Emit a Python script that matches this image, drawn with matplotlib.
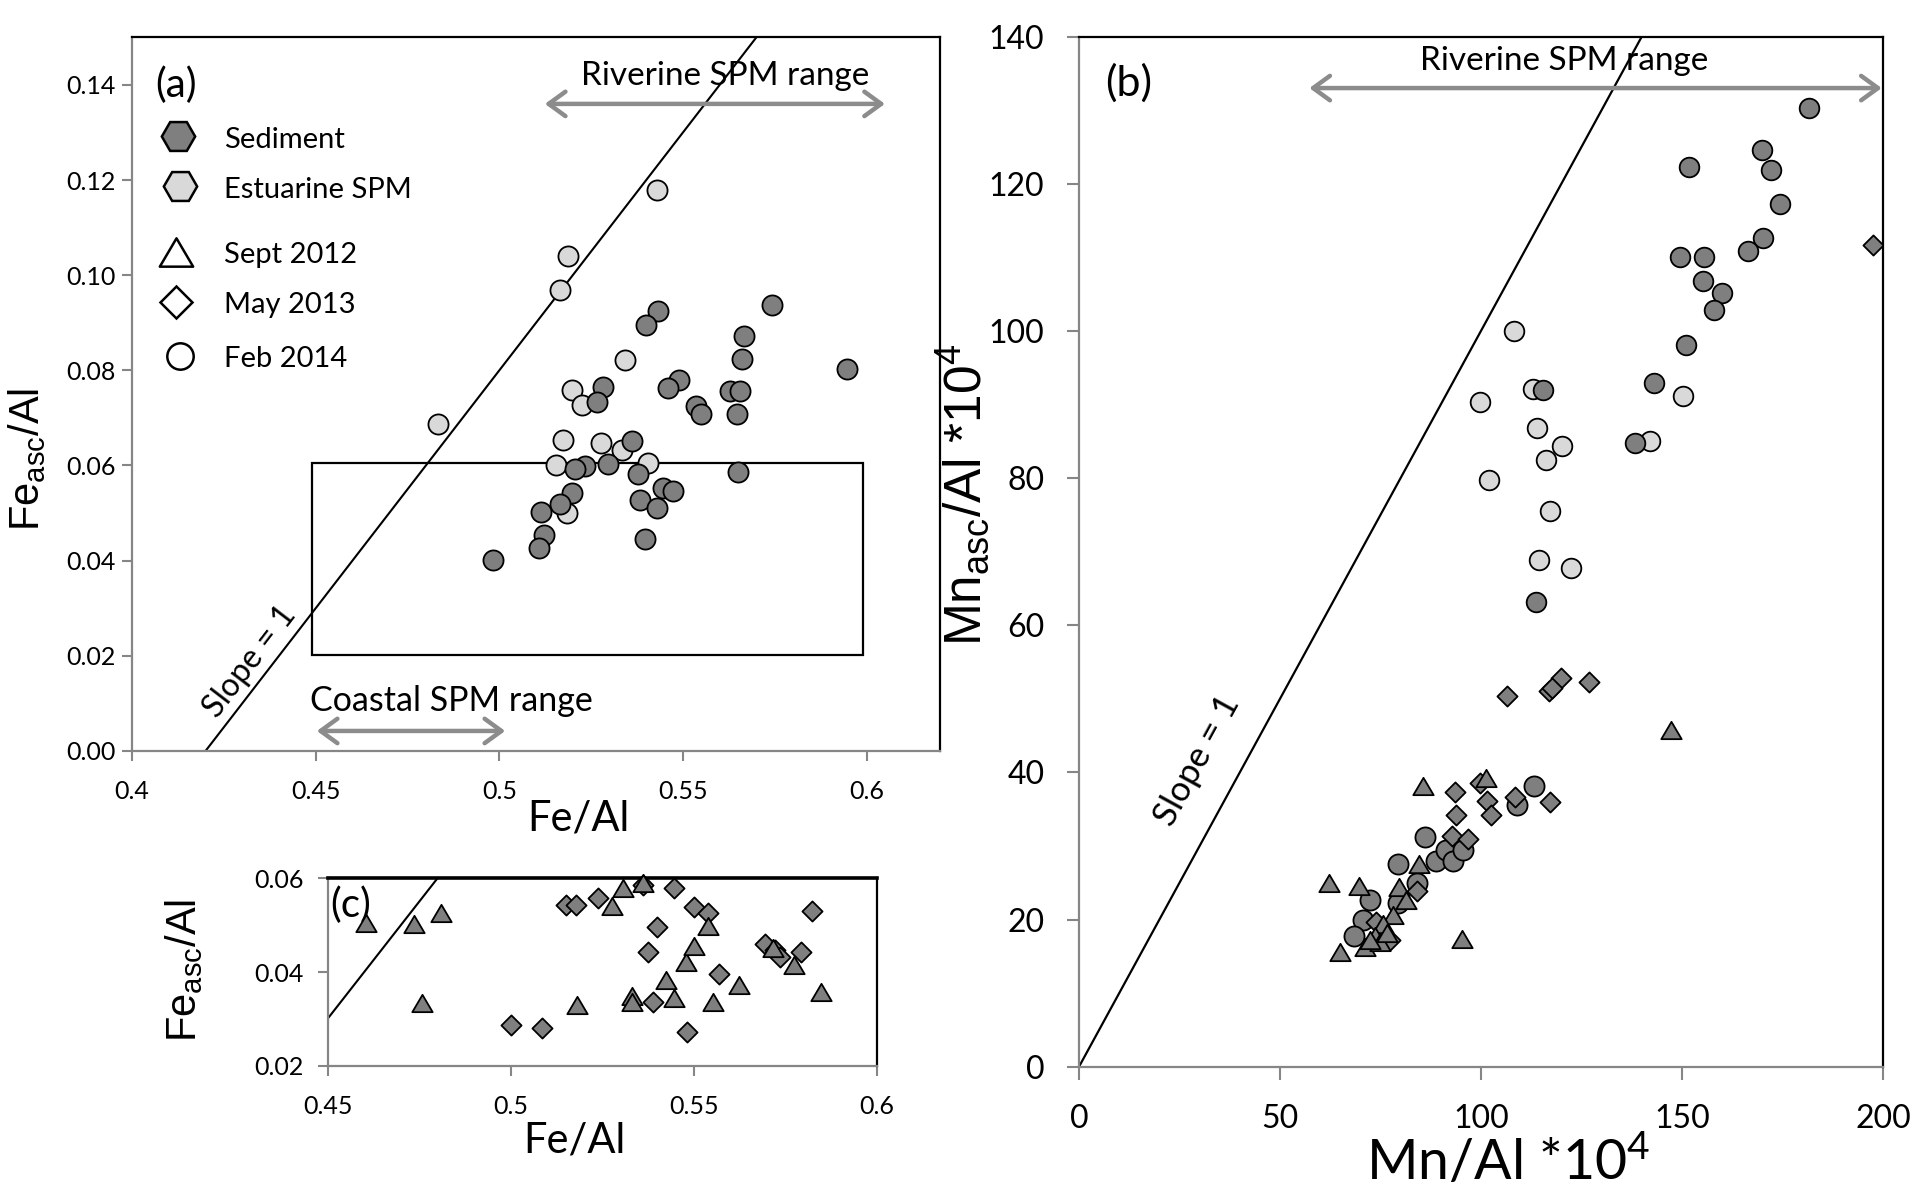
import numpy as np
import matplotlib
matplotlib.use('Agg')
import matplotlib.pyplot as plt
import matplotlib.patches as patches
from matplotlib.path import Path

# ---- (a) Fe_asc/Al vs Fe/Al ----
a_est_x = [0.543, 0.5188, 0.5164, 0.4834, 0.5341, 0.5198, 0.5225, 0.5172, 0.5277, 0.5335, 0.5155, 0.5405, 0.5184]
a_est_y = [0.1180, 0.1040, 0.0968, 0.0688, 0.0822, 0.0758, 0.0728, 0.0654, 0.0648, 0.0632, 0.0600, 0.0605, 0.0500]

a_sed_x = [0.5743, 0.5431, 0.5400, 0.5666, 0.5947, 0.5660, 0.5283, 0.5490, 0.5460, 0.5627,
           0.5655, 0.5265, 0.5535, 0.5550, 0.5648, 0.5361, 0.5297, 0.5233, 0.5207, 0.5378,
           0.5650, 0.5383, 0.5445, 0.5472, 0.5430, 0.5199, 0.5164, 0.5113, 0.5121, 0.5109,
           0.5397, 0.4982]
a_sed_y = [0.0938, 0.0925, 0.0896, 0.0872, 0.0802, 0.0823, 0.0764, 0.0780, 0.0762, 0.0757,
           0.0757, 0.0733, 0.0724, 0.0709, 0.0708, 0.0651, 0.0604, 0.0598, 0.0592, 0.0583,
           0.0587, 0.0527, 0.0552, 0.0546, 0.0510, 0.0543, 0.0519, 0.0502, 0.0454, 0.0427,
           0.0446, 0.0402]

# ---- (b) Mn_asc/Al vs Mn/Al ----
b_est_x = [108.1, 113.0, 99.8, 150.3, 113.9, 120.1, 142.1, 116.2, 101.9, 117.1, 114.5, 122.3]
b_est_y = [100.0, 92.1, 90.4, 91.2, 86.8, 84.4, 85.1, 82.5, 79.8, 75.5, 68.8, 67.8]

b_sed_x = [181.5, 169.9, 151.7, 172.2, 174.3, 170.2, 166.4, 149.6, 155.4, 155.2,
           159.9, 157.9, 151.0, 143.1, 115.4, 138.3, 113.8]
b_sed_y = [130.3, 124.6, 122.3, 121.9, 117.3, 112.6, 110.8, 110.0, 110.1, 106.8,
           105.2, 102.9, 98.1, 92.9, 92.0, 84.7, 63.1]

b_feb_x = [113.2, 109.0, 86.1, 79.3, 88.8, 91.3, 93.1, 95.4, 84.0, 79.4, 72.4, 70.6, 68.5]
b_feb_y = [38.2, 35.6, 31.2, 27.6, 27.9, 29.5, 28.0, 29.5, 24.9, 22.3, 22.6, 20.0, 17.8]

b_may_x = [197.6, 106.5, 116.9, 119.9, 126.8, 117.7, 93.5, 99.8, 101.4, 108.5,
           93.9, 102.6, 92.9, 96.8, 117.2, 84.2, 74.0, 77.4]
b_may_y = [111.7, 50.4, 51.0, 52.8, 52.3, 51.5, 37.3, 38.5, 36.1, 36.6,
           34.2, 34.2, 31.3, 30.9, 36.0, 23.9, 19.7, 17.2]

b_sept_x = [147.2, 85.5, 101.2, 84.6, 62.3, 69.6, 79.7, 81.3, 78.0, 75.7,
            73.6, 71.1, 74.9, 64.9, 95.2, 76.5, 72.5]
b_sept_y = [45.8, 38.1, 39.2, 27.6, 24.9, 24.6, 24.4, 22.7, 20.6, 19.4,
            17.7, 16.3, 17.0, 15.6, 17.3, 18.2, 17.2]

# ---- (c) zoom of the box in (a) ----
c_sept_x = [0.4605, 0.4736, 0.4809, 0.4759, 0.5180, 0.5306, 0.5362, 0.5277, 0.5330, 0.5330,
            0.5424, 0.5447, 0.5478, 0.5501, 0.5539, 0.5553, 0.5623, 0.5774, 0.5848, 0.5715]
c_sept_y = [0.0504, 0.0502, 0.0527, 0.0334, 0.0330, 0.0579, 0.0590, 0.0541, 0.0349, 0.0336,
            0.0384, 0.0344, 0.0422, 0.0456, 0.0498, 0.0337, 0.0372, 0.0416, 0.0358, 0.0452]

c_may_x = [0.5002, 0.5085, 0.5152, 0.5177, 0.5237, 0.5361, 0.5447, 0.5501, 0.5539, 0.5398,
           0.5376, 0.5389, 0.5482, 0.5569, 0.5694, 0.5721, 0.5734, 0.5793, 0.5823]
c_may_y = [0.0287, 0.0280, 0.0544, 0.0544, 0.0557, 0.0586, 0.0579, 0.0539, 0.0525, 0.0497,
           0.0443, 0.0335, 0.0273, 0.0396, 0.0460, 0.0447, 0.0431, 0.0442, 0.0530]

a_xticks = [0.4, 0.45, 0.5, 0.55, 0.6]
a_yticks = [0.00, 0.02, 0.04, 0.06, 0.08, 0.10, 0.12, 0.14]
b_xticks = [0, 50, 100, 150, 200]
b_yticks = [0, 20, 40, 60, 80, 100, 120, 140]
c_xticks = [0.45, 0.5, 0.55, 0.6]
c_yticks = [0.02, 0.04, 0.06]

plt.rcParams['font.family'] = ['Lato', 'DejaVu Sans']
plt.rcParams['mathtext.default'] = 'regular'

DARK = '#7f7f7f'
LIGHT = '#d9d9d9'
AXGRAY = '#868686'
ARROW = '#8c8c8c'
ARIAL = ['Liberation Sans', 'DejaVu Sans']

# slightly flattened triangle like the Excel marker
tri = Path([(-1, -0.85), (1, -0.85), (0, 0.85), (-1, -0.85)],
           [Path.MOVETO, Path.LINETO, Path.LINETO, Path.CLOSEPOLY])


def frame(ax, lsize, xpad, ypad, tlen):
    for s in ['left', 'bottom']:
        ax.spines[s].set_color(AXGRAY)
        ax.spines[s].set_linewidth(1.6)
    for s in ['top', 'right']:
        ax.spines[s].set_color('black')
        ax.spines[s].set_linewidth(1.6)
    ax.tick_params(direction='out', color=AXGRAY, width=1.5, length=tlen, labelsize=lsize)
    ax.tick_params(axis='x', pad=xpad)
    ax.tick_params(axis='y', pad=ypad)


def range_arrow(ax, x1, x2, y):
    ax.annotate('', xy=(x2, y), xytext=(x1, y),
                arrowprops=dict(arrowstyle='<->,head_length=0.55,head_width=0.4',
                                color=ARROW, lw=3.2, mutation_scale=22,
                                shrinkA=0, shrinkB=0))


fig = plt.figure(figsize=(19.2, 11.95), dpi=100)

# ================= (a) =================
ax = fig.add_axes([0.0688, 0.3716, 0.4208, 0.5972])
frame(ax, 18, 14, 5, 7)
ax.set_xlim(0.4, 0.62)
ax.set_ylim(0, 0.15)
ax.set_xticks(a_xticks)
ax.set_xticklabels(['0.4', '0.45', '0.5', '0.55', '0.6'])
ax.set_yticks(a_yticks)
ax.set_yticklabels(['%.2f' % v for v in a_yticks])

sx = np.array([0.42, 0.57])
ax.plot(sx, sx - 0.42, color='k', lw=1.5, zorder=2)
ax.add_patch(patches.Rectangle((0.449, 0.0202), 0.150, 0.0403, fill=False,
                               ec='k', lw=1.6, zorder=2))
ax.scatter(a_est_x, a_est_y, s=210, c=LIGHT, edgecolors='k', linewidths=1.3, zorder=3)
ax.scatter(a_sed_x, a_sed_y, s=210, c=DARK, edgecolors='k', linewidths=1.3, zorder=4)

range_arrow(ax, 0.5124, 0.605, 0.136)
ax.text(0.5616, 0.1418, 'Riverine SPM range', fontsize=24, ha='center', va='center')
range_arrow(ax, 0.4503, 0.5016, 0.0042)
ax.text(0.4485, 0.0106, 'Coastal SPM range', fontsize=24.5, ha='left', va='center')
ax.text(0.4322, 0.0188, 'Slope = 1', fontsize=23, rotation=52.5,
        ha='center', va='center')

# legend drawn by hand, Excel style
ax.text(0.0545, 0.933, '(a)', transform=ax.transAxes, fontsize=29, ha='center', va='center')
leg = [('H', DARK, 0.0566, 0.861, 'Sediment', 24),
       ('H', LIGHT, 0.0594, 0.791, 'Estuarine SPM', 24),
       (tri, 'white', 0.0545, 0.6996, 'Sept 2012', 24),
       ('D', 'white', 0.0545, 0.6295, 'May 2013', 16.5),
       ('o', 'white', 0.0594, 0.5535, 'Feb 2014', 19)]
for m, fc, lx, ly, lab, ms in leg:
    ax.plot([lx], [ly], marker=m, ms=ms, mfc=fc, mec='k', mew=1.8,
            transform=ax.transAxes, clip_on=False, ls='none')
    ax.text(0.114, ly - 0.005, lab, transform=ax.transAxes, fontsize=21, va='center')

ax.text(-0.13, 0.408, 'Fe$_{asc}$/Al', transform=ax.transAxes, rotation=90,
        fontsize=30, family=ARIAL, ha='center', va='center')
ax.text(0.552, -0.094, 'Fe/Al', transform=ax.transAxes, fontsize=30,
        ha='center', va='center')

# ================= (b) =================
bx = fig.add_axes([0.562, 0.1074, 0.4187, 0.862])
frame(bx, 23, 18, 16, 9)
bx.set_xlim(0, 200)
bx.set_ylim(0, 140)
bx.set_xticks(b_xticks)
bx.set_yticks(b_yticks)

lx = np.array([0, 140])
bx.plot(lx, lx, color='k', lw=1.6, zorder=2)
bx.scatter(b_est_x, b_est_y, s=200, c=LIGHT, edgecolors='k', linewidths=1.3, zorder=3)
bx.scatter(b_sed_x, b_sed_y, s=200, c=DARK, edgecolors='k', linewidths=1.3, zorder=4)
bx.scatter(b_feb_x, b_feb_y, s=210, c=DARK, edgecolors='k', linewidths=1.3, zorder=4)
bx.scatter(b_may_x, b_may_y, s=105, marker='D', c=DARK, edgecolors='k', linewidths=1.3, zorder=5)
bx.scatter(b_sept_x, b_sept_y, s=215, marker=tri, c=DARK, edgecolors='k', linewidths=1.3, zorder=6)

range_arrow(bx, 57.3, 199.7, 133.0)
bx.text(120.7, 136.7, 'Riverine SPM range', fontsize=24, ha='center', va='center')
bx.text(29.3, 41.6, 'Slope = 1', fontsize=25, rotation=61.3, ha='center', va='center')
bx.text(0.062, 0.955, '(b)', transform=bx.transAxes, fontsize=31, ha='center', va='center')

bx.text(-0.143, 0.555, 'Mn$_{asc}$/Al *10$^{4}$', transform=bx.transAxes, rotation=90,
        fontsize=37, family=ARIAL, ha='center', va='center')
bx.text(0.534, -0.093, 'Mn/Al *10$^{4}$', transform=bx.transAxes, fontsize=40,
        ha='center', va='center')

# ================= (c) =================
cx = fig.add_axes([0.1706, 0.1082, 0.2862, 0.1568])
frame(cx, 18, 14, 10, 7)
cx.spines['top'].set_linewidth(2.6)
cx.set_xlim(0.45, 0.6)
cx.set_ylim(0.02, 0.06)
cx.set_xticks(c_xticks)
cx.set_xticklabels(['0.45', '0.5', '0.55', '0.6'])
cx.set_yticks(c_yticks)
cx.set_yticklabels(['%.2f' % v for v in c_yticks])

cl = np.array([0.45, 0.48])
cx.plot(cl, cl - 0.42, color='k', lw=1.5, zorder=2)
cx.scatter(c_may_x, c_may_y, s=105, marker='D', c=DARK, edgecolors='k', linewidths=1.3,
           zorder=4, clip_on=False)
cx.scatter(c_sept_x, c_sept_y, s=215, marker=tri, c=DARK, edgecolors='k', linewidths=1.3,
           zorder=5, clip_on=False)
cx.text(0.042, 0.855, '(c)', transform=cx.transAxes, fontsize=29, ha='center', va='center')

cx.text(-0.261, 0.51, 'Fe$_{asc}$/Al', transform=cx.transAxes, rotation=90,
        fontsize=30, family=ARIAL, ha='center', va='center')
cx.text(0.45, -0.40, 'Fe/Al', transform=cx.transAxes, fontsize=30,
        ha='center', va='center')

fig.savefig('out.png', dpi=100)
